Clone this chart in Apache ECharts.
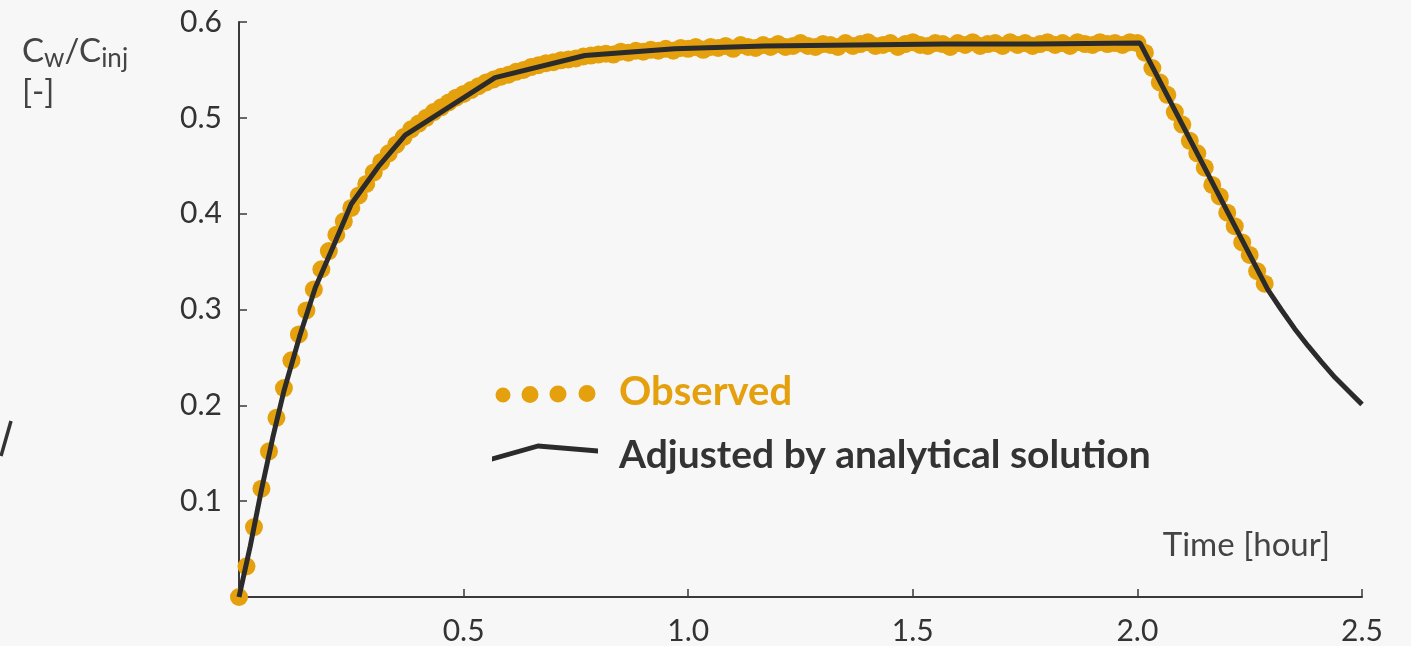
<!DOCTYPE html>
<html><head><meta charset="utf-8">
<script src="https://cdn.jsdelivr.net/npm/echarts@6/dist/echarts.min.js"></script>
<style>html,body{margin:0;padding:0;background:#f7f7f7;}#c{width:1411px;height:646px;}</style>
</head><body><div id="c"></div>
<script>
// Observed concentration ratio, one sample per minute starting at t = 0 h
const obsStepHours = 1 / 60;
const observed = [
  0.000, 0.032, 0.073, 0.113, 0.152, 0.187, 0.218, 0.247, 0.274, 0.299, 0.321, 0.342, 0.361,
  0.378, 0.392, 0.406, 0.419, 0.431, 0.443, 0.454, 0.463, 0.472, 0.480, 0.488, 0.494,
  0.500, 0.506, 0.511, 0.516, 0.521, 0.525, 0.529, 0.533, 0.537, 0.540, 0.543, 0.545,
  0.548, 0.550, 0.553, 0.555, 0.557, 0.558, 0.560, 0.561, 0.562, 0.564, 0.565, 0.566,
  0.567, 0.566, 0.569, 0.568, 0.570, 0.569, 0.571, 0.570, 0.572, 0.570, 0.573, 0.572,
  0.574, 0.571, 0.574, 0.573, 0.575, 0.572, 0.576, 0.574, 0.573, 0.576, 0.574, 0.577,
  0.574, 0.575, 0.578, 0.575, 0.574, 0.577, 0.576, 0.574, 0.578, 0.575, 0.577, 0.579,
  0.575, 0.576, 0.578, 0.574, 0.577, 0.579, 0.576, 0.575, 0.578, 0.577, 0.574, 0.578,
  0.576, 0.579, 0.575, 0.577, 0.578, 0.575, 0.579, 0.576, 0.578, 0.575, 0.577, 0.579,
  0.576, 0.578, 0.575, 0.579, 0.577, 0.576, 0.579, 0.577, 0.578, 0.576, 0.579, 0.578,
  0.568, 0.552, 0.537, 0.524, 0.506, 0.493, 0.476, 0.463, 0.448, 0.430, 0.418, 0.401,
  0.387, 0.370, 0.357, 0.340, 0.327
];
// Analytical solution (fitted curve)
const fitTime  = [0, 0.025, 0.05, 0.075, 0.10, 0.135, 0.17, 0.21, 0.25, 0.31, 0.37, 0.57, 0.77, 0.97, 1.17, 1.37, 1.57, 1.77, 2.006,
                  2.29, 2.32, 2.35, 2.38, 2.41, 2.44, 2.47, 2.50];
const fitValue = [0, 0.053, 0.112, 0.166, 0.215, 0.272, 0.323, 0.366, 0.410, 0.449, 0.482, 0.542, 0.565, 0.572, 0.575, 0.576, 0.577, 0.577, 0.578,
                  0.321, 0.300, 0.280, 0.262, 0.245, 0.229, 0.215, 0.201];

const seriesNames = ['Observed', 'Adjusted by analytical solution'];
const xAxisName = 'Time [hour]';

const ORANGE = '#E5A00E';
const DARK = '#2b2b2b';
const FONT = 'Lato, "Open Sans", sans-serif';

const anchor = 'M0,0 L0.01,0 L0,0.01 Z M106,26 L105.99,26 L106,25.99 Z ';
function circ(cx, cy, r) { return 'M' + (cx - r) + ',' + cy + ' a' + r + ',' + r + ' 0 1,0 ' + (2 * r) + ',0 a' + r + ',' + r + ' 0 1,0 ' + (-2 * r) + ',0 Z '; }
const dotsIcon = 'path://' + anchor + circ(11, 16, 7.5) + circ(38, 15.5, 8.5) + circ(66, 15, 8.5) + circ(95, 14.5, 8.5);
const lineIcon = 'path://' + anchor + 'M0,14.5 L46,1.5 L106,6.5 L106,11.5 L46,6.5 L0,19.5 Z';

const chart = echarts.init(document.getElementById('c'), null, { renderer: 'canvas' });
chart.setOption({
  backgroundColor: '#f7f7f7',
  animation: false,
  grid: { left: 239, right: 49, top: 22, bottom: 48 },
  xAxis: {
    type: 'value', min: 0, max: 2.5, interval: 0.5,
    axisLine: { lineStyle: { color: '#3a3a3a', width: 2 } },
    axisTick: { inside: true, length: 8, lineStyle: { color: '#3a3a3a', width: 1.5 } },
    splitLine: { show: false },
    axisLabel: { margin: 19, fontSize: 30, color: '#333', fontFamily: FONT,
      formatter: v => v === 0 ? '' : v.toFixed(1) }
  },
  yAxis: {
    type: 'value', min: 0, max: 0.6, interval: 0.1,
    axisLine: { show: true, lineStyle: { color: '#3a3a3a', width: 2 } },
    axisTick: { show: true, inside: true, length: 8, lineStyle: { color: '#3a3a3a', width: 1.5 } },
    splitLine: { show: false },
    axisLabel: { margin: 17, fontSize: 30, color: '#333', fontFamily: FONT,
      formatter: v => v === 0 ? '' : v.toFixed(1) }
  },
  legend: {
    orient: 'vertical', left: 492, top: 370, padding: 0, itemWidth: 106, itemHeight: 26, itemGap: 19,
    selectedMode: false,
    itemStyle: { borderWidth: 0 },
    textStyle: { fontFamily: FONT, fontSize: 39, fontWeight: 'bold', lineHeight: 44, padding: [0, 0, 0, 16] },
    data: [
      { name: seriesNames[0], icon: dotsIcon, itemStyle: { color: ORANGE, borderWidth: 0 }, textStyle: { color: ORANGE, fontSize: 40 } },
      { name: seriesNames[1], icon: lineIcon, itemStyle: { color: DARK, borderWidth: 0 }, textStyle: { color: '#333' } }
    ]
  },
  graphic: [
    { type: 'text', left: 22, top: 35, style: {
        text: '{b|C}{s|w}{b|/C}{s|inj}\n{b|[-]}',
        rich: {
          b: { fontFamily: FONT, fontSize: 33, lineHeight: 41, fill: '#444' },
          s: { fontFamily: FONT, fontSize: 26, lineHeight: 23, verticalAlign: 'bottom', fill: '#444' }
        }
    } },
    { type: 'text', right: 81, top: 529, style: { text: xAxisName, fontFamily: FONT, fontSize: 33, fill: '#444' } },
    { type: 'line', shape: { x1: 1, y1: 456, x2: 11, y2: 421 }, style: { stroke: '#333', lineWidth: 3.5 } }
  ],
  series: [
    {
      name: seriesNames[0], type: 'scatter', symbol: 'circle', symbolSize: 18,
      itemStyle: { color: ORANGE, opacity: 1 }, z: 2,
      data: observed.map((v, i) => [i * obsStepHours, v])
    },
    {
      name: seriesNames[1], type: 'line', showSymbol: false, smooth: false, z: 3,
      lineStyle: { color: DARK, width: 5 }, itemStyle: { color: DARK },
      data: fitTime.map((t, i) => [t, fitValue[i]])
    }
  ]
});
</script></body></html>
